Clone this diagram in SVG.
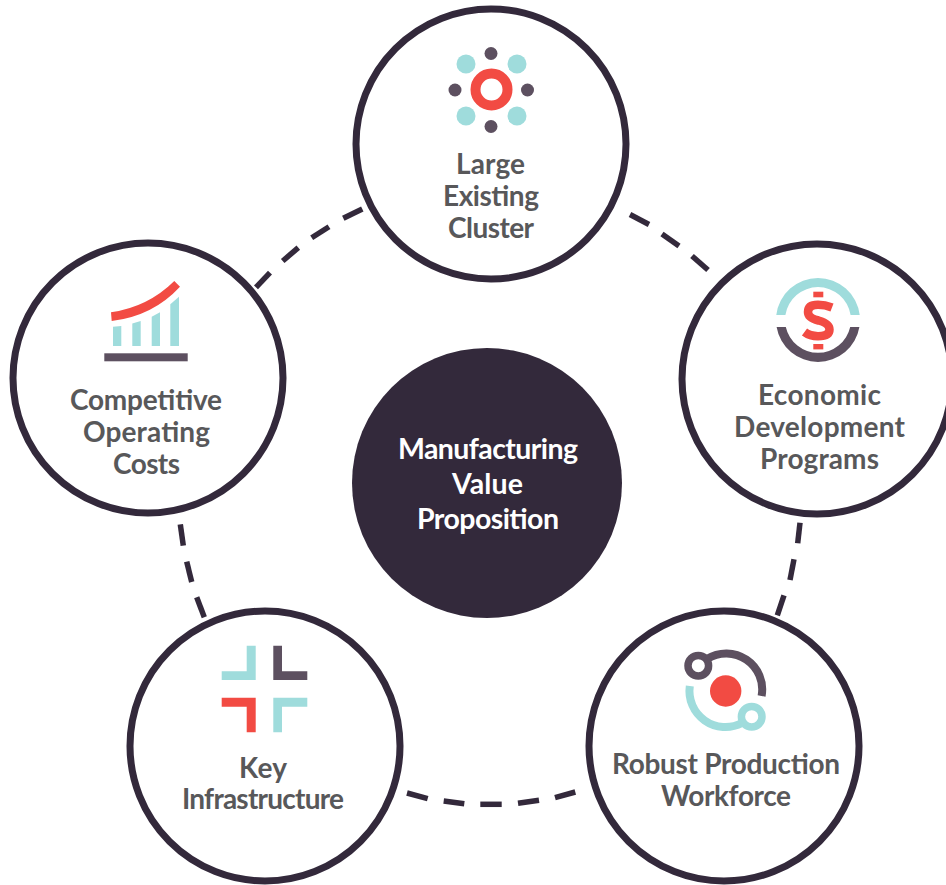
<svg xmlns="http://www.w3.org/2000/svg" width="946" height="885" viewBox="0 0 946 885">
<defs><style>
.ring{fill:#fff;stroke:#33293b;stroke-width:7}
.lbl{font-family:"Lato","Liberation Sans",sans-serif;font-weight:700;font-size:28px;fill:#58585a;text-anchor:middle}
.ctr{font-family:"Lato","Liberation Sans",sans-serif;font-weight:700;font-size:28.5px;fill:#fff;text-anchor:middle}
.teal{fill:#9fdcdc}.dark{fill:#5d5060}.red{fill:#f24b43}
#connectors line{stroke:#33293b;stroke-width:5.5}
</style></defs>
<rect width="946" height="885" fill="#fff"/>
<g id="connectors">
<line x1="630" y1="214.5" x2="649" y2="224.5"/><line x1="662" y1="234" x2="679" y2="246"/><line x1="692" y1="256" x2="708" y2="270"/>
<line x1="800" y1="522.7" x2="797.7" y2="543.3"/><line x1="794" y1="559.3" x2="790" y2="580"/><line x1="784" y1="595.3" x2="777.3" y2="615.3"/>
<line x1="407" y1="793" x2="427.7" y2="798.7"/><line x1="443.7" y1="801" x2="464.3" y2="803.7"/><line x1="480.3" y1="804.3" x2="501.7" y2="804.3"/><line x1="518" y1="803.3" x2="539" y2="800.3"/><line x1="555" y1="797.7" x2="575.3" y2="792"/>
<line x1="180.3" y1="524.3" x2="183.3" y2="545.7"/><line x1="186.7" y1="561.7" x2="191.7" y2="582"/><line x1="196.7" y1="597.3" x2="204.3" y2="617.3"/>
<line x1="256" y1="287.3" x2="270" y2="272.7"/><line x1="282.7" y1="261" x2="298.3" y2="247.7"/><line x1="311.7" y1="237.7" x2="329" y2="226.7"/><line x1="343.3" y1="218.3" x2="362.3" y2="209"/>
</g>
<g id="node-center">
<circle cx="487" cy="483" r="135" fill="#33293b"/>
<text class="ctr" x="488" y="459" textLength="180">Manufacturing</text><text class="ctr" x="487.5" y="494" textLength="71">Value</text><text class="ctr" x="488" y="529" textLength="142">Proposition</text>
</g>
<g id="node-cluster">
<circle class="ring" cx="491" cy="144" r="135"/>
<circle cx="491.5" cy="89.5" r="16" fill="none" stroke="#f24b43" stroke-width="10"/>
<circle class="dark" cx="491" cy="53.5" r="6.5"/><circle class="dark" cx="455" cy="90" r="6.5"/><circle class="dark" cx="527.5" cy="90" r="6.5"/><circle class="dark" cx="491" cy="126.5" r="6.5"/>
<circle class="teal" cx="466" cy="64" r="9.5"/><circle class="teal" cx="517" cy="64" r="9.5"/><circle class="teal" cx="466" cy="116" r="9.5"/><circle class="teal" cx="517" cy="116" r="9.5"/>
<text class="lbl" x="490.5" y="174" textLength="69">Large</text><text class="lbl" x="491" y="206" textLength="96">Existing</text><text class="lbl" x="491" y="238" textLength="86">Cluster</text>
</g>
<g id="node-economic">
<circle class="ring" cx="817" cy="379" r="135"/>
<path class="teal" d="M776.3 315A42 42 0 0 1 859.7 315L850.6 315A33 33 0 0 0 785.4 315Z"/>
<path class="dark" d="M776.6 327A42 42 0 0 0 859.4 327L850.2 327A33 33 0 0 1 785.8 327Z"/>
<rect class="red" x="813.3" y="291.7" width="10" height="5.6"/>
<rect class="red" x="813.3" y="344" width="10" height="5.4"/>
<path d="M832 307.5Q825 304.8 818 304.8Q808 304.8 808 312Q808 318 818.5 320.5Q829.5 323.5 829.5 329.5Q829.5 336.2 818 336.2Q810 336.2 804.5 332" fill="none" stroke="#f24b43" stroke-width="8.5"/>
<text class="lbl" x="819.5" y="405" textLength="123">Economic</text><text class="lbl" x="819.5" y="437" textLength="171">Development</text><text class="lbl" x="819.5" y="469" textLength="119">Programs</text>
</g>
<g id="node-workforce">
<circle class="ring" cx="724" cy="746" r="135"/>
<circle class="red" cx="725.7" cy="691" r="15.7"/>
<circle cx="698.3" cy="665.7" r="10.3" fill="none" stroke="#5d5060" stroke-width="7.5"/>
<path d="M707 659A36 36 0 0 1 761.6 696" fill="none" stroke="#5d5060" stroke-width="8"/>
<circle cx="751.7" cy="716.7" r="10.3" fill="none" stroke="#9fdcdc" stroke-width="7.5"/>
<path d="M689.8 686A36 36 0 0 0 742 723" fill="none" stroke="#9fdcdc" stroke-width="8"/>
<text class="lbl" x="726" y="774" textLength="228">Robust Production</text><text class="lbl" x="726" y="806" textLength="130">Workforce</text>
</g>
<g id="node-infrastructure">
<circle class="ring" cx="265" cy="746" r="135"/>
<path class="teal" d="M246.7 645.7H255.7V680H221.7V671.3H246.7Z"/>
<path class="dark" d="M273.3 645.7H282V671.3H307.3V680H273.3Z"/>
<path class="red" d="M221.7 697.7H255.7V732.3H246.7V706.7H221.7Z"/>
<path class="teal" d="M273.3 697.7H307.3V706.7H282V732.3H273.3Z"/>
<text class="lbl" x="263" y="778" textLength="48">Key</text><text class="lbl" x="263" y="809" textLength="162">Infrastructure</text>
</g>
<g id="node-costs">
<circle class="ring" cx="148" cy="378" r="135"/>
<path class="red" d="M111 312.3Q148 307 174.3 281L180 286.7Q153 316 111.7 321Z"/>
<path class="teal" d="M113 326.7L121.3 326V346H113Z"/>
<path class="teal" d="M132.3 323.5L140.7 321V346H132.3Z"/>
<path class="teal" d="M151.7 316.7L160 312.3V346H151.7Z"/>
<path class="teal" d="M170.3 304.3L179 296.7V346H170.3Z"/>
<rect class="dark" x="104.3" y="353.3" width="83.4" height="8"/>
<text class="lbl" x="146" y="410" textLength="152">Competitive</text><text class="lbl" x="146.5" y="442" textLength="127">Operating</text><text class="lbl" x="146.5" y="474" textLength="67">Costs</text>
</g>
</svg>
